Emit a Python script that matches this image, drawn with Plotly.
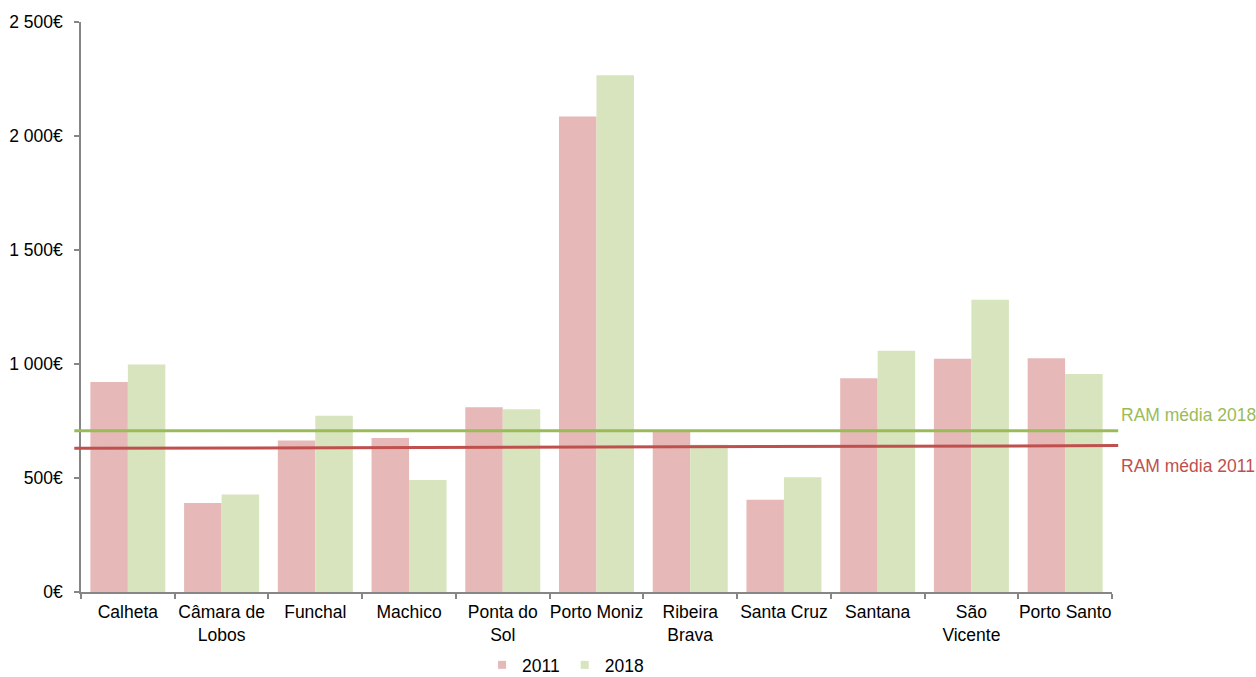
import plotly.graph_objects as go

# Municipalities of the Madeira region (RAM)
municipios = [
    "Calheta", "Câmara de<br>Lobos", "Funchal", "Machico", "Ponta do<br>Sol",
    "Porto Moniz", "Ribeira<br>Brava", "Santa Cruz", "Santana", "São<br>Vicente",
    "Porto Santo",
]

# Values in euros
valores_2011 = [921, 390, 664, 675, 810, 2085, 708, 405, 937, 1023, 1025]
valores_2018 = [998, 428, 773, 491, 801, 2266, 646, 503, 1058, 1282, 956]

# Regional averages (the 2011 line runs slightly tilted from left to right)
media_2011 = [630, 642]
media_2018 = [707, 707]

y_ticks = [0, 500, 1000, 1500, 2000, 2500]
y_tick_labels = ["0€", "500€", "1 000€", "1 500€", "2 000€", "2 500€"]

COR_2011 = "#E6B9B8"
COR_2018 = "#D7E4BD"
LINHA_2011 = "#C0504D"
LINHA_2018 = "#9BBB59"
FONT = "Liberation Sans, Arial, sans-serif"
FS = 17.5

fig = go.Figure()
fig.add_trace(go.Bar(x=municipios, y=valores_2011, name="2011",
                     marker=dict(color=COR_2011, line=dict(width=0)),
                     showlegend=False))
fig.add_trace(go.Bar(x=municipios, y=valores_2018, name="2018",
                     marker=dict(color=COR_2018, line=dict(width=0)),
                     showlegend=False))

# Legend entries with small square swatches
for nome, cor in (("2011", COR_2011), ("2018", COR_2018)):
    fig.add_trace(go.Scatter(x=[None], y=[None], mode="markers", name=nome,
                             marker=dict(symbol="square", size=8, color=cor)))

# Average lines
fig.add_shape(type="line", xref="paper", yref="y", x0=-0.0065, x1=1.006,
              y0=media_2018[0], y1=media_2018[1],
              line=dict(color=LINHA_2018, width=3))
fig.add_shape(type="line", xref="paper", yref="y", x0=-0.0065, x1=1.006,
              y0=media_2011[0], y1=media_2011[1],
              line=dict(color=LINHA_2011, width=3))

fig.add_annotation(xref="paper", yref="y", x=1.0065, y=media_2018[1],
                   text="RAM média 2018", showarrow=False, xanchor="left",
                   yanchor="middle", yshift=16,
                   font=dict(family=FONT, size=FS, color=LINHA_2018))
fig.add_annotation(xref="paper", yref="y", x=1.0065, y=media_2011[1],
                   text="RAM média 2011", showarrow=False, xanchor="left",
                   yanchor="middle", yshift=-20,
                   font=dict(family=FONT, size=FS, color=LINHA_2011))

fig.update_layout(
    width=1256, height=677,
    margin=dict(l=81, r=144, t=22, b=85, autoexpand=False),
    paper_bgcolor="white", plot_bgcolor="white",
    barmode="group", bargap=0.2, bargroupgap=0,
    font=dict(family=FONT, size=FS, color="#000000"),
    legend=dict(orientation="h", x=0.47, xanchor="center", y=-0.128,
                yanchor="middle", font=dict(family=FONT, size=FS),
                itemwidth=30, tracegroupgap=0),
    xaxis=dict(type="category", showline=True, linecolor="#868686", linewidth=1.5,
               ticks="outside", tickson="boundaries", ticklen=5,
               tickcolor="#868686", tickwidth=1.5, showgrid=False,
               automargin=False, ticklabelstandoff=3,
               tickangle=0, tickfont=dict(family=FONT, size=FS, color="#000000")),
    yaxis=dict(range=[0, 2500], tickvals=y_ticks, ticktext=y_tick_labels,
               showline=True, linecolor="#868686", linewidth=1.5,
               ticks="outside", ticklen=5, tickcolor="#868686", tickwidth=1.5,
               showgrid=False, zeroline=False, automargin=False,
               ticklabelstandoff=8,
               tickfont=dict(family=FONT, size=FS, color="#000000")),
)

fig.write_html("out.html")
